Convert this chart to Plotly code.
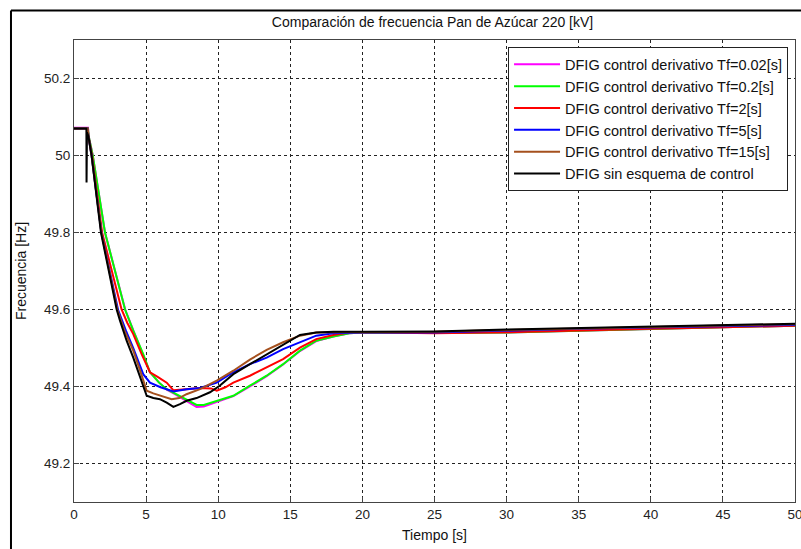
import plotly.graph_objects as go

# ---- data ----
t_black = [0, 0.86, 0.87, 0.9, 1.0, 1.22, 1.87, 2.4, 2.96, 3.19, 3.65, 4.11, 4.58, 5.04, 5.5, 5.96, 6.43, 6.89,
           7.35, 7.81, 8.5, 9.43, 10.1, 11.05, 12.2, 13.36, 14.5, 15.67, 16.8, 18, 20, 25, 30, 35, 40, 45, 50]
f_black = [50.07, 50.07, 49.93, 50.06, 50.05, 50.0, 49.8, 49.7, 49.6, 49.571, 49.519, 49.475, 49.423, 49.376, 49.37,
           49.367, 49.358, 49.347, 49.354, 49.363, 49.37, 49.385, 49.402, 49.432, 49.458, 49.484, 49.51, 49.534,
           49.54, 49.542, 49.542, 49.543, 49.548, 49.552, 49.556, 49.56, 49.563]

t_brown = [0, 0.95, 1.0, 1.22, 1.9, 2.45, 3.0, 3.5, 4.11, 4.6, 5.04, 5.5, 6.0, 6.77, 7.3, 7.8, 8.74, 9.9, 11.05,
           12.2, 13.36, 14.5, 15.67, 16.8, 18, 20, 25, 30, 35, 40, 45, 50]
f_brown = [50.07, 50.07, 50.05, 50.0, 49.8, 49.7, 49.6, 49.545, 49.493, 49.44, 49.389, 49.382, 49.376, 49.367, 49.37,
           49.38, 49.393, 49.415, 49.441, 49.47, 49.495, 49.515, 49.532, 49.54, 49.541, 49.541, 49.542, 49.547,
           49.551, 49.555, 49.559, 49.562]

t_blue = [0, 0.95, 1.0, 1.22, 1.9, 2.5, 3.05, 3.6, 4.11, 4.8, 5.27, 6.0, 6.89, 7.81, 8.74, 9.9, 11.05, 12.2,
          13.36, 14.5, 15.67, 16.8, 17.98, 20, 25, 30, 35, 40, 45, 50]
f_blue = [50.07, 50.07, 50.05, 50.0, 49.8, 49.7, 49.6, 49.545, 49.5, 49.432, 49.41, 49.398, 49.387, 49.393, 49.396,
          49.41, 49.437, 49.458, 49.475, 49.497, 49.514, 49.532, 49.538, 49.54, 49.54, 49.545, 49.55, 49.553,
          49.556, 49.56]

t_red = [0, 0.95, 1.0, 1.25, 1.95, 2.6, 3.3, 3.7, 4.11, 4.69, 5.27, 5.8, 6.43, 6.9, 7.5, 8.74, 9.5, 9.9, 10.5,
         11.05, 12.2, 13.36, 14.5, 15.67, 16.8, 17.98, 19.1, 20, 25, 30, 35, 40, 45, 50]
f_red = [50.07, 50.07, 50.05, 50.0, 49.8, 49.7, 49.6, 49.565, 49.536, 49.484, 49.437, 49.425, 49.41, 49.39, 49.392,
         49.396, 49.395, 49.389, 49.398, 49.41, 49.428, 49.45, 49.471, 49.501, 49.523, 49.534, 49.54, 49.541,
         49.538, 49.541, 49.546, 49.55, 49.554, 49.558]

t_green = [0, 0.97, 1.02, 1.3, 2.15, 2.85, 3.54, 4.11, 4.8, 5.27, 5.9, 6.43, 7.0, 7.58, 8.5, 9.0, 9.9, 11.05,
           12.2, 13.36, 14.5, 15.67, 16.8, 17.98, 19.1, 20, 25, 30, 35, 40, 45, 50]
f_green = [50.07, 50.07, 50.05, 50.0, 49.8, 49.7, 49.6, 49.545, 49.484, 49.437, 49.41, 49.393, 49.382, 49.371,
           49.352, 49.352, 49.363, 49.376, 49.402, 49.428, 49.458, 49.493, 49.519, 49.53, 49.538, 49.54, 49.539,
           49.54, 49.545, 49.55, 49.554, 49.558]

t_magenta = [0, 0.97, 1.02, 1.3, 2.15, 2.85, 3.55, 4.12, 4.8, 5.27, 5.9, 6.43, 7.0, 7.58, 8.5, 9.0, 9.9, 11.05,
             12.2, 13.36, 14.5, 15.67, 16.8, 17.98, 19.1, 20, 25, 30, 35, 40, 45, 50]
f_magenta = [50.072, 50.072, 50.05, 50.0, 49.8, 49.7, 49.6, 49.545, 49.484, 49.437, 49.41, 49.392, 49.38, 49.368,
             49.347, 49.348, 49.36, 49.375, 49.4, 49.427, 49.457, 49.492, 49.518, 49.53, 49.538, 49.54, 49.539,
             49.54, 49.545, 49.55, 49.554, 49.558]

series_names = [
    "DFIG control derivativo Tf=0.02[s]",
    "DFIG control derivativo Tf=0.2[s]",
    "DFIG control derivativo Tf=2[s]",
    "DFIG control derivativo Tf=5[s]",
    "DFIG control derivativo Tf=15[s]",
    "DFIG sin esquema de control",
]
series_colors = ["#ff00ff", "#00ff00", "#ff0000", "#0000ff", "#a5501e", "#000000"]
series_t = [t_magenta, t_green, t_red, t_blue, t_brown, t_black]
series_f = [f_magenta, f_green, f_red, f_blue, f_brown, f_black]

x_ticks = [0, 5, 10, 15, 20, 25, 30, 35, 40, 45, 50]
y_ticks = [49.2, 49.4, 49.6, 49.8, 50.0, 50.2]
y_ticktext = ["49.2", "49.4", "49.6", "49.8", "50", "50.2"]

# ---- figure ----
fig = go.Figure()
for name, col, tt, ff in zip(series_names, series_colors, series_t, series_f):
    fig.add_trace(go.Scatter(x=tt, y=ff, mode="lines", name=name,
                             line=dict(color=col, width=2)))

FONT = "Liberation Sans, Arial, sans-serif"
axis_common = dict(showline=True, mirror=True, linecolor="#444", linewidth=1,
                   ticks="inside", ticklen=5, tickcolor="#444",
                   showgrid=True, gridcolor="#222", gridwidth=1, griddash="3px,3px",
                   zeroline=False, automargin=False, ticklabeloverflow="allow",
                   tickfont=dict(family=FONT, size=13.5, color="#222"))

fig.update_layout(
    width=801, height=549, autosize=False,
    paper_bgcolor="white", plot_bgcolor="white",
    margin=dict(l=74, r=6, t=40, b=47),
    title=dict(text="Comparación de frecuencia Pan de Azúcar 220 [kV]",
               x=0.54, xanchor="center", y=0.96, yanchor="middle",
               font=dict(family=FONT, size=14, color="#111")),
    xaxis=dict(range=[0, 50], tickvals=x_ticks,
               title=dict(text="Tiempo [s]", font=dict(family=FONT, size=14, color="#111"), standoff=8),
               **axis_common),
    yaxis=dict(range=[49.1, 50.3], tickvals=y_ticks, ticktext=y_ticktext,
               title=dict(text="Frecuencia [Hz]", font=dict(family=FONT, size=14, color="#111"), standoff=14),
               **axis_common),
    legend=dict(x=0.602, y=0.984, xanchor="left", yanchor="top",
                bgcolor="white", bordercolor="#222", borderwidth=1,
                font=dict(family=FONT, size=14.5, color="#111"),
                tracegroupgap=0, itemwidth=46),
    showlegend=True,
)

# outer figure frame (left and top edges)
fig.add_shape(type="line", xref="paper", yref="paper", x0=-0.0874, x1=1.2, y0=1.0638, y1=1.0638,
              line=dict(color="black", width=2))
fig.add_shape(type="line", xref="paper", yref="paper", x0=-0.0874, x1=-0.0874, y0=1.0638, y1=-0.2,
              line=dict(color="black", width=2))

fig.write_html("out.html", config={"displayModeBar": False},
               post_script="document.body.style.margin='0';document.body.style.overflow='hidden';")
